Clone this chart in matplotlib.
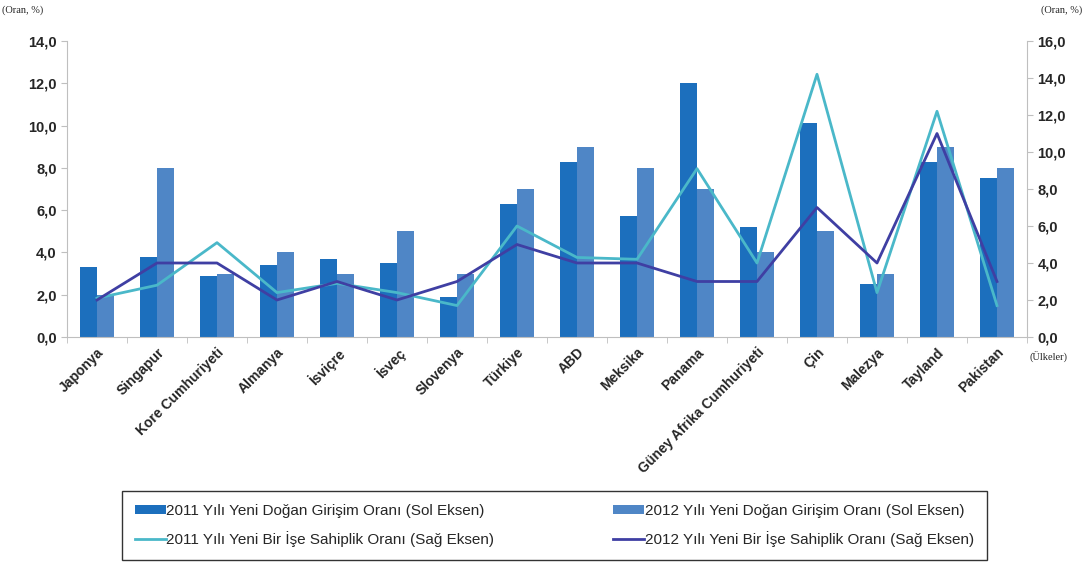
import matplotlib

matplotlib.use("Agg")
import matplotlib.pyplot as plt
import numpy as np
from matplotlib.ticker import FuncFormatter, MultipleLocator

plt.rcParams["font.family"] = ["Liberation Sans", "DejaVu Sans"]

countries = [
    "Japonya", "Singapur", "Kore Cumhuriyeti", "Almanya", "İsviçre", "İsveç",
    "Slovenya", "Türkiye", "ABD", "Meksika", "Panama",
    "Güney Afrika Cumhuriyeti", "Çin", "Malezya", "Tayland", "Pakistan",
]
new_firm_2011 = [3.3, 3.8, 2.9, 3.4, 3.7, 3.5, 1.9, 6.3, 8.3, 5.7, 12.0, 5.2, 10.1, 2.5, 8.3, 7.5]
new_firm_2012 = [2.0, 8.0, 3.0, 4.0, 3.0, 5.0, 3.0, 7.0, 9.0, 8.0, 7.0, 4.0, 5.0, 3.0, 9.0, 8.0]
owner_2011 = [2.1, 2.8, 5.1, 2.4, 2.9, 2.4, 1.7, 6.0, 4.3, 4.2, 9.1, 4.0, 14.2, 2.4, 12.2, 1.7]
owner_2012 = [2.0, 4.0, 4.0, 2.0, 3.0, 2.0, 3.0, 5.0, 4.0, 4.0, 3.0, 3.0, 7.0, 4.0, 11.0, 3.0]

labels = [
    "2011 Yılı Yeni Doğan Girişim Oranı (Sol Eksen)",
    "2012 Yılı Yeni Doğan Girişim Oranı (Sol Eksen)",
    "2011 Yılı Yeni Bir İşe Sahiplik Oranı (Sağ Eksen)",
    "2012 Yılı Yeni Bir İşe Sahiplik Oranı (Sağ Eksen)",
]

c_bar11 = "#1c6fbd"
c_bar12 = "#4f86c6"
c_line11 = "#4ab8c9"
c_line12 = "#3f3fa3"
axis_grey = "#bfbfbf"
text_col = "#262626"


def comma_fmt(v, _pos):
    return f"{v:.1f}".replace(".", ",")


fig = plt.figure(figsize=(10.88, 5.64), dpi=100)
ax = fig.add_axes([67 / 1088, 1 - 337 / 564, 960 / 1088, 296 / 564])
ax2 = ax.twinx()

x = np.arange(len(countries))
w = 0.28
b1 = ax.bar(x - w / 2, new_firm_2011, width=w, color=c_bar11, label=labels[0], zorder=2)
b2 = ax.bar(x + w / 2, new_firm_2012, width=w, color=c_bar12, label=labels[1], zorder=2)
(l1,) = ax2.plot(x, owner_2011, color=c_line11, lw=2, label=labels[2])
(l2,) = ax2.plot(x, owner_2012, color=c_line12, lw=2, label=labels[3])

ax.set_xlim(-0.5, len(countries) - 0.5)
ax.set_ylim(0, 14)
ax2.set_ylim(0, 16)
ax.yaxis.set_major_locator(MultipleLocator(2))
ax2.yaxis.set_major_locator(MultipleLocator(2))
ax.yaxis.set_major_formatter(FuncFormatter(comma_fmt))
ax2.yaxis.set_major_formatter(FuncFormatter(comma_fmt))

# category labels at centers, tick marks at boundaries
ax.set_xticks(x)
ax.set_xticklabels(countries, rotation=45, ha="right", rotation_mode="anchor",
                   fontsize=10, fontweight="bold", color=text_col)
ax.tick_params(axis="x", length=0, pad=6)
ax.set_xticks(np.arange(-0.5, len(countries), 1), minor=True)
ax.tick_params(axis="x", which="minor", length=4, color=axis_grey, direction="out")

for a in (ax, ax2):
    a.tick_params(axis="y", length=4, color=axis_grey, labelsize=10.5,
                  labelcolor=text_col)
    for lab in a.get_yticklabels():
        lab.set_fontweight("bold")
    for s in a.spines.values():
        s.set_color(axis_grey)
    a.spines["top"].set_visible(False)

ax.spines["right"].set_visible(False)
ax2.spines["left"].set_visible(False)
ax2.spines["bottom"].set_visible(False)

fig.text(2 / 1088, 1 - 10 / 564, "(Oran, %)", family="Liberation Serif",
         fontsize=7.5, color=text_col, va="center", ha="left")
fig.text(1082 / 1088, 1 - 10 / 564, "(Oran, %)", family="Liberation Serif",
         fontsize=7.5, color=text_col, va="center", ha="right")
fig.text(1030 / 1088, 1 - 357 / 564, "(Ülkeler)", family="Liberation Serif",
         fontsize=7.5, color=text_col, va="center", ha="left")

# legend fills row-wise in the reference: reorder for matplotlib's column fill
leg = fig.legend(
    [b1, l1, b2, l2], [labels[0], labels[2], labels[1], labels[3]], ncol=2,
    loc="upper left", bbox_to_anchor=(122 / 1088, 1 - 491 / 564),
    frameon=True, fancybox=False, fontsize=11,
    handlelength=2.0, handleheight=0.5, handletextpad=0.05, borderaxespad=0,
    labelspacing=0.85, borderpad=0.85, columnspacing=7.8,
)
leg.get_frame().set_edgecolor("black")
leg.get_frame().set_linewidth(1)
for t in leg.get_texts():
    t.set_color(text_col)

fig.savefig("out.png", dpi=100)
